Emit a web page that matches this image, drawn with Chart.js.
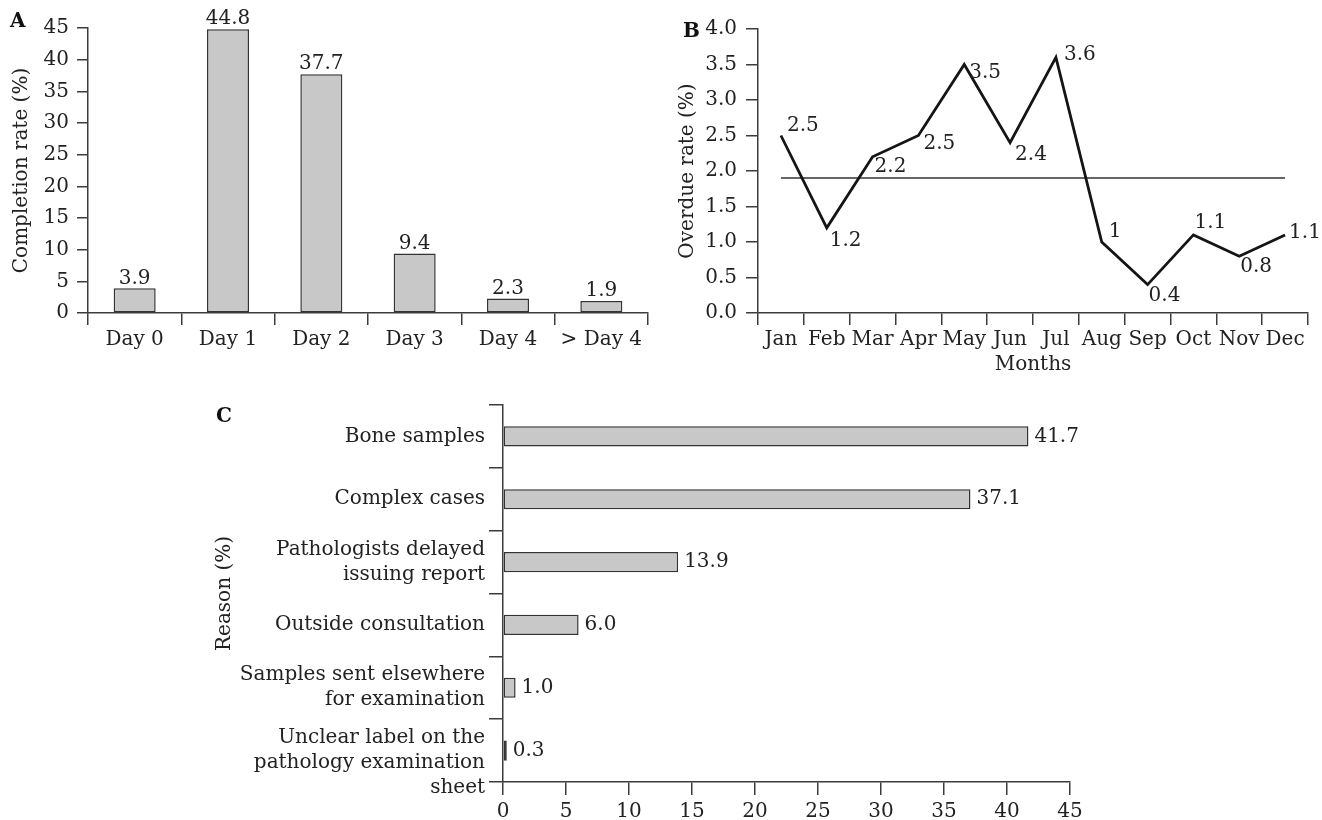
<!DOCTYPE html>
<html>
<head>
<meta charset="utf-8">
<script src="https://cdn.jsdelivr.net/npm/chart.js@4.4.1/dist/chart.umd.min.js"></script>
<style>
  html, body { margin: 0; padding: 0; background: #fff; }
  body { width: 1322px; height: 820px; position: relative; overflow: hidden; font-family: "DejaVu Serif", serif; }
  canvas { position: absolute; display: block; }
  .panel { position: absolute; font-family: "DejaVu Serif", serif; font-weight: bold; font-size: 20px; color: #111; line-height: 1; }
</style>
</head>
<body>
<canvas id="chartA" width="660" height="380" style="left:0px;top:0px;width:660px;height:380px"></canvas>
<canvas id="chartB" width="662" height="380" style="left:660px;top:0px;width:662px;height:380px"></canvas>
<canvas id="chartC" width="920" height="440" style="left:180px;top:380px;width:920px;height:440px"></canvas>
<div class="panel" style="left:10px;top:10px">A</div>
<div class="panel" style="left:683px;top:20px">B</div>
<div class="panel" style="left:216px;top:405px">C</div>
<script>
// ---------- Data ----------
const dayCategories = ['Day 0', 'Day 1', 'Day 2', 'Day 3', 'Day 4', '> Day 4'];
const completionRates = [3.9, 44.8, 37.7, 9.4, 2.3, 1.9];

const months = ['Jan', 'Feb', 'Mar', 'Apr', 'May', 'Jun', 'Jul', 'Aug', 'Sep', 'Oct', 'Nov', 'Dec'];
const overdueRates = [2.5, 1.2, 2.2, 2.5, 3.5, 2.4, 3.6, 1, 0.4, 1.1, 0.8, 1.1];
const averageOverdueRate = 1.9;

const reasons = [
  'Bone samples',
  'Complex cases',
  ['Pathologists delayed', 'issuing report'],
  'Outside consultation',
  ['Samples sent elsewhere', 'for examination'],
  ['Unclear label on the', 'pathology examination', 'sheet']
];
const reasonShares = [41.7, 37.1, 13.9, 6.0, 1.0, 0.3];

const yTicksA = [0, 5, 10, 15, 20, 25, 30, 35, 40, 45];
const yTicksB = [0, 0.5, 1, 1.5, 2, 2.5, 3, 3.5, 4];
const xTicksC = [0, 5, 10, 15, 20, 25, 30, 35, 40, 45];

// label placement for panel B (offsets from point, style only)
const labelOffsetsB = [[6,-10],[3,13],[2,10],[5,8],[5,8],[5,12],[8,-3],[7,-10],[1,11],[1,-12],[1,11],[4,-2]];

// ---------- Styles ----------
const FONT = '"DejaVu Serif", serif';
const FS = 20;
const TEXT = '#222';
const AXIS = '#3c3c3c';
const BAR_FILL = '#c8c8c8';
const BAR_EDGE = '#333';
Chart.defaults.font.family = FONT;
Chart.defaults.font.size = FS;
Chart.defaults.color = TEXT;
Chart.defaults.animation = false;
Chart.defaults.responsive = false;
Chart.defaults.devicePixelRatio = 1;
Chart.defaults.plugins.legend.display = false;
Chart.defaults.plugins.tooltip.enabled = false;

function axisGrid(tickLength) {
  return { drawOnChartArea: false, drawTicks: true, tickLength: tickLength, color: AXIS, lineWidth: 1.5 };
}
const axisBorder = { display: true, color: AXIS, width: 1.5 };

// ---------- Panel A ----------
const labelsA = {
  id: 'labelsA',
  afterDatasetsDraw(chart) {
    const ctx = chart.ctx;
    const meta = chart.getDatasetMeta(0);
    ctx.save();
    ctx.font = FS + 'px ' + FONT;
    ctx.fillStyle = TEXT;
    ctx.textAlign = 'center';
    ctx.textBaseline = 'middle';
    meta.data.forEach((bar, i) => {
      ctx.fillText(String(completionRates[i]), bar.x, bar.y - 10);
    });
    ctx.restore();
  }
};

new Chart(document.getElementById('chartA'), {
  type: 'bar',
  data: {
    labels: dayCategories,
    datasets: [{
      data: completionRates,
      backgroundColor: BAR_FILL,
      borderColor: BAR_EDGE,
      borderWidth: 1.5,
      borderSkipped: false,
      categoryPercentage: 1,
      barPercentage: 0.45
    }]
  },
  options: {
    layout: { padding: { top: 28, right: 12, left: 0, bottom: 0 } },
    scales: {
      x: {
        grid: Object.assign(axisGrid(12), { offset: true }),
        border: axisBorder,
        ticks: { padding: 3, color: TEXT, maxRotation: 0, autoSkip: false },
        afterFit(s) { s.height = 67; }
      },
      y: {
        min: 0, max: 45,
        afterBuildTicks(s) { s.ticks = yTicksA.map(v => ({ value: v })); },
        grid: axisGrid(11),
        border: axisBorder,
        ticks: { padding: 8, color: TEXT },
        title: { display: true, text: 'Completion rate (%)', color: TEXT, font: { size: FS }, padding: { top: 10, bottom: 0 } },
        afterFit(s) { s.width = 88; }
      }
    }
  },
  plugins: [labelsA]
});

// ---------- Panel B ----------
const labelsB = {
  id: 'labelsB',
  afterDatasetsDraw(chart) {
    const ctx = chart.ctx;
    const meta = chart.getDatasetMeta(0);
    ctx.save();
    ctx.font = FS + 'px ' + FONT;
    ctx.fillStyle = TEXT;
    ctx.textAlign = 'left';
    ctx.textBaseline = 'middle';
    meta.data.forEach((pt, i) => {
      const off = labelOffsetsB[i];
      ctx.fillText(String(overdueRates[i]), pt.x + off[0], pt.y + off[1]);
    });
    ctx.restore();
  }
};

new Chart(document.getElementById('chartB'), {
  type: 'line',
  data: {
    labels: months,
    datasets: [{
      data: overdueRates,
      borderColor: '#151515',
      borderWidth: 2.8,
      pointRadius: 0,
      tension: 0,
      fill: false,
      borderJoinStyle: 'miter'
    }, {
      data: [{ x: months[0], y: averageOverdueRate }, { x: months[months.length - 1], y: averageOverdueRate }],
      borderColor: '#333',
      borderWidth: 1.5,
      pointRadius: 0,
      fill: false
    }]
  },
  options: {
    layout: { padding: { top: 29, right: 14, left: 0, bottom: 0 } },
    scales: {
      x: {
        offset: true,
        grid: Object.assign(axisGrid(12), { offset: true }),
        border: axisBorder,
        ticks: { padding: 3, color: TEXT, maxRotation: 0, autoSkip: false },
        title: { display: true, text: 'Months', color: TEXT, font: { size: FS }, padding: { top: 0, bottom: 3 } },
        afterFit(s) { s.height = 67; }
      },
      y: {
        min: 0, max: 4,
        afterBuildTicks(s) { s.ticks = yTicksB.map(v => ({ value: v })); },
        grid: axisGrid(12),
        border: axisBorder,
        ticks: { padding: 9, color: TEXT, callback: v => Number(v).toFixed(1) },
        title: { display: true, text: 'Overdue rate (%)', color: TEXT, font: { size: FS }, padding: { top: 16, bottom: 0 } },
        afterFit(s) { s.width = 98; }
      }
    }
  },
  plugins: [labelsB]
});

// ---------- Panel C ----------
const labelsC = {
  id: 'labelsC',
  afterDatasetsDraw(chart) {
    const ctx = chart.ctx;
    const meta = chart.getDatasetMeta(0);
    ctx.save();
    ctx.font = FS + 'px ' + FONT;
    ctx.fillStyle = TEXT;
    ctx.textAlign = 'left';
    ctx.textBaseline = 'middle';
    meta.data.forEach((bar, i) => {
      ctx.fillText(reasonShares[i].toFixed(1), bar.x + 6, bar.y);
    });
    ctx.restore();
  }
};

new Chart(document.getElementById('chartC'), {
  type: 'bar',
  data: {
    labels: reasons,
    datasets: [{
      data: reasonShares,
      backgroundColor: BAR_FILL,
      borderColor: BAR_EDGE,
      borderWidth: 1.5,
      borderSkipped: false,
      categoryPercentage: 1,
      barPercentage: 0.32
    }]
  },
  options: {
    indexAxis: 'y',
    layout: { padding: { top: 25, right: 30, left: 0, bottom: 0 } },
    scales: {
      x: {
        min: 0, max: 45,
        afterBuildTicks(s) { s.ticks = xTicksC.map(v => ({ value: v })); },
        grid: axisGrid(13),
        border: axisBorder,
        ticks: { padding: 5, color: TEXT, maxRotation: 0 },
        afterFit(s) { s.height = 38; }
      },
      y: {
        grid: Object.assign(axisGrid(14), { offset: true }),
        border: axisBorder,
        ticks: {
          padding: 4, color: TEXT, autoSkip: false,
          font: { size: FS, lineHeight: 1.25 },
          callback: function (v, i) {
            const lbl = reasons[i];
            return (Array.isArray(lbl) && lbl.length > 2) ? [''].concat(lbl) : lbl;
          }
        },
        title: { display: true, text: 'Reason (%)', color: TEXT, font: { size: FS }, padding: { top: 33, bottom: 0 } },
        afterFit(s) { s.width = 323; s.paddingTop = 0; s.paddingBottom = 0; }
      }
    }
  },
  plugins: [labelsC]
});
</script>
</body>
</html>
